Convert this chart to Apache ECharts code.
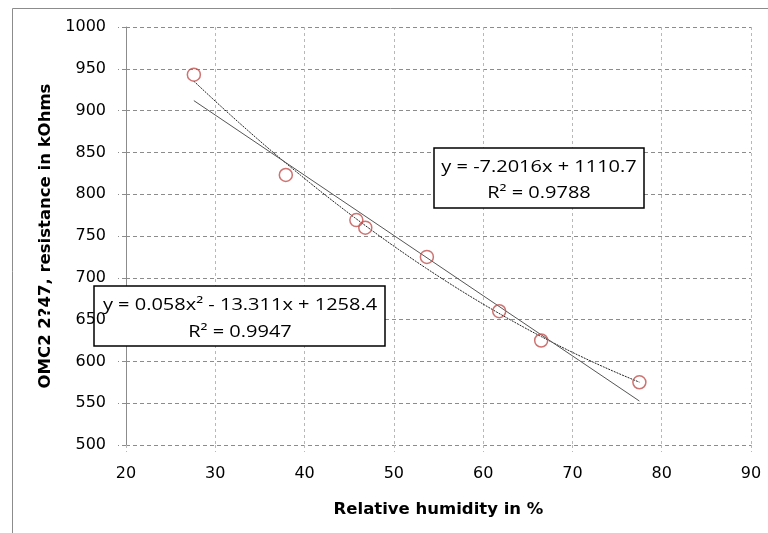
<!DOCTYPE html>
<html><head><meta charset="utf-8">
<script src="https://cdn.jsdelivr.net/npm/echarts@6/dist/echarts.min.js"></script>
<style>html,body{margin:0;padding:0;background:#fff}#c{width:768px;height:533px}</style>
</head><body><div id="c"></div>
<script>
// Measured points
const humidity = [27.6, 37.9, 45.8, 46.8, 53.7, 61.8, 66.5, 77.5];
const resistance = [943, 823, 769, 760, 725, 660, 625, 575];
// Trendline coefficients as printed on the chart
const linearCoef = [-7.2016, 1110.7];
const quadCoef = [0.058, -13.311, 1258.4];
const linearLabel = ['y = -7.2016x + 1110.7', 'R\u00b2 = 0.9788'];
const quadLabel = ['y = 0.058x\u00b2 - 13.311x + 1258.4', 'R\u00b2 = 0.9947'];
const xTicks = [20, 30, 40, 50, 60, 70, 80, 90];
const yTicks = [500, 550, 600, 650, 700, 750, 800, 850, 900, 950, 1000];

const xMin = Math.min(...humidity), xMax = Math.max(...humidity);
const linearLine = [[xMin, linearCoef[0]*xMin + linearCoef[1]], [xMax, linearCoef[0]*xMax + linearCoef[1]]];
const quadLine = [];
for (let i = 0; i <= 50; i++) {
  const x = xMin + (xMax - xMin) * i / 50;
  quadLine.push([x, quadCoef[0]*x*x + quadCoef[1]*x + quadCoef[2]]);
}
const points = humidity.map((h, i) => [h, resistance[i]]);

const FONT = 'DejaVu Sans';
const BOXFONT = 'Open Sans';
const chart = echarts.init(document.getElementById('c'));
function boxText(x, y, t) {
  return {type: 'text', x: x, y: y, z: 11, scaleX: 1.25,
    style: {text: t, fontFamily: BOXFONT, fontSize: 16, fill: '#000', align: 'center', verticalAlign: 'middle'}};
}
chart.setOption({
  animation: false,
  backgroundColor: '#fff',
  grid: {left: 126, right: 17, top: 27, bottom: 88},
  xAxis: {
    type: 'value', min: xTicks[0], max: xTicks[xTicks.length-1], interval: 10,
    name: 'Relative humidity in %', nameLocation: 'middle', nameGap: 56,
    nameTextStyle: {fontFamily: FONT, fontWeight: 'bold', fontSize: 16.5, color: '#000'},
    axisLine: {show: false},
    axisTick: {show: true, length: 7, lineStyle: {color: '#b8b8b8', type: [3, 3]}},
    axisLabel: {fontFamily: FONT, fontSize: 16, color: '#000', margin: 21},
    splitLine: {show: true, lineStyle: {color: '#b8b8b8', type: [3, 3], width: 1}}
  },
  yAxis: [{
    type: 'value', min: yTicks[0], max: yTicks[yTicks.length-1], interval: 50,
    name: 'OMC2 2?47, resistance in kOhms', nameLocation: 'middle', nameGap: 72,
    nameTextStyle: {fontFamily: FONT, fontWeight: 'bold', fontSize: 16.5, color: '#000'},
    axisLine: {show: true, lineStyle: {color: '#8c8c8c', width: 1}},
    axisTick: {show: true, length: 8, lineStyle: {color: '#8c8c8c', type: [4, 3]}},
    axisLabel: {show: false},
    splitLine: {show: true, lineStyle: {color: '#8c8c8c', type: [4, 3], width: 1}}
  }, {
    type: 'value', min: yTicks[0], max: yTicks[yTicks.length-1], interval: 50,
    position: 'left', z: 20,
    axisLine: {show: false}, axisTick: {show: false}, splitLine: {show: false},
    axisLabel: {fontFamily: FONT, fontSize: 16, color: '#000', margin: 20, formatter: v => String(v)}
  }],
  series: [
    {type: 'line', data: quadLine, showSymbol: false, symbol: 'none', smooth: false,
     lineStyle: {color: '#222', width: 1, type: [2, 1]}, z: 3, silent: true},
    {type: 'line', data: linearLine, showSymbol: false, symbol: 'none',
     lineStyle: {color: '#555', width: 1}, z: 3, silent: true},
    {type: 'scatter', data: points, symbol: 'circle', symbolSize: 13,
     itemStyle: {color: 'rgba(255,255,255,0)', borderColor: '#c0504d', borderWidth: 1.5}, z: 4}
  ],
  graphic: [
    {type: 'rect', left: 10, top: 6, z: -10, silent: true,
     shape: {width: 800, height: 600}, style: {fill: 'none', stroke: '#8c8c8c', lineWidth: 1}},
    {type: 'rect', z: 10, shape: {x: 434, y: 148, width: 210, height: 60}, style: {fill: '#fff', stroke: '#000', lineWidth: 1.5}},
    boxText(539, 167, linearLabel[0]),
    boxText(539, 193, linearLabel[1]),
    {type: 'rect', z: 10, shape: {x: 94, y: 286, width: 291, height: 60}, style: {fill: '#fff', stroke: '#000', lineWidth: 1.5}},
    boxText(240, 305, quadLabel[0]),
    boxText(240, 332, quadLabel[1])
  ]
});
</script></body></html>
